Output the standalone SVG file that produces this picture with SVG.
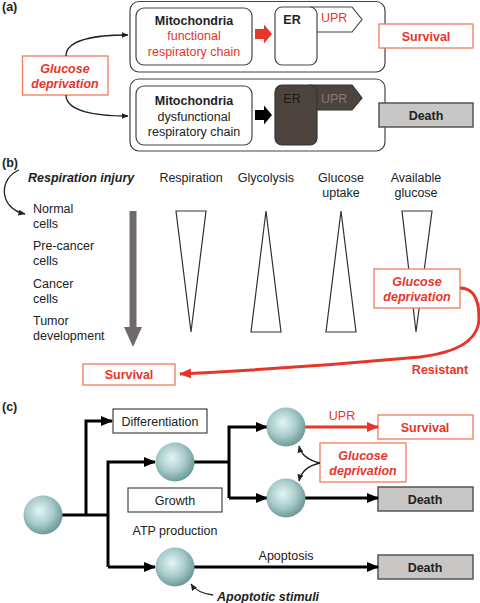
<svg xmlns="http://www.w3.org/2000/svg" width="480" height="603" viewBox="0 0 480 603">
<style>
text{font-family:"Liberation Sans",Arial,sans-serif;font-size:12.5px;fill:#222}
.b{font-weight:bold}
.bi{font-weight:bold;font-style:italic}
.red{fill:#e8352a}
.c{text-anchor:middle}
.box{fill:#fff;stroke:#444;stroke-width:1.2}
.rbox{fill:#fff;stroke:#f07a5a;stroke-width:1.3}
.dbox{fill:#c9c7c5;stroke:#555;stroke-width:1.5}
.thin{fill:none;stroke:#222;stroke-width:1.3}
.thick{fill:none;stroke:#000;stroke-width:3}
.tri{fill:#fff;stroke:#333;stroke-width:1.2}
</style>
<defs>
<marker id="ah" markerUnits="userSpaceOnUse" markerWidth="12" markerHeight="10" refX="11" refY="5" orient="auto"><path d="M0,0 L12,5 L0,10 z" fill="#000"/></marker>
<marker id="ahr" markerUnits="userSpaceOnUse" markerWidth="12" markerHeight="10" refX="11" refY="5" orient="auto"><path d="M0,0 L12,5 L0,10 z" fill="#e8352a"/></marker>
<marker id="as" markerUnits="userSpaceOnUse" markerWidth="7" markerHeight="6" refX="6.5" refY="3" orient="auto"><path d="M0,0 L7,3 L0,6 z" fill="#222"/></marker>
<radialGradient id="cg" cx="0.42" cy="0.4" r="0.62">
<stop offset="0" stop-color="#e4f6f6"/><stop offset="0.55" stop-color="#a9cbcb"/><stop offset="1" stop-color="#6a9797"/>
</radialGradient>
</defs>

<!-- Panel a -->
<text class="b" x="2" y="11">(a)</text>
<g id="a-top">
<rect class="box" x="130" y="1.5" width="255" height="70.5" rx="9"/>
<rect class="box" x="136" y="8" width="116" height="57" rx="8"/>
<text class="b c" x="194" y="25">Mitochondria</text>
<text class="red c" x="194" y="40">functional</text>
<text class="red c" x="194" y="56">respiratory chain</text>
<polygon points="255,29 264,29 264,24.5 272,34 264,43.5 264,39 255,39" fill="#e8352a"/>
<polygon points="310,7 352,7 362,19.5 352,32 310,32" fill="#fff" stroke="#444" stroke-width="1.2"/>
<rect class="box" x="275" y="7" width="42" height="58" rx="7"/>
<text class="b c" x="292" y="24">ER</text>
<text class="red" x="321" y="22">UPR</text>
</g>
<g id="a-bottom">
<rect class="box" x="130" y="79" width="255" height="72" rx="9"/>
<rect class="box" x="136" y="86" width="116" height="59" rx="8"/>
<text class="b c" x="194" y="105">Mitochondria</text>
<text class="c" x="194" y="121">dysfunctional</text>
<text class="c" x="194" y="136">respiratory chain</text>
<polygon points="255,110 264,110 264,105.5 272,115 264,124.5 264,120 255,120" fill="#000"/>
<polygon points="310,85 352,85 362,98 352,110 310,110" fill="#4d4440" stroke="#333" stroke-width="1.2"/>
<rect x="275" y="85" width="42" height="60" rx="7" fill="#4d4440" stroke="#333" stroke-width="1.2"/>
<text class="c" x="292" y="103" style="fill:#1a1a1a">ER</text>
<text x="321" y="103" style="fill:#857a76">UPR</text>
</g>
<g id="a-glucose">
<rect class="rbox" x="22.5" y="56" width="85.5" height="39"/>
<text class="bi red c" x="65" y="73">Glucose</text>
<text class="bi red c" x="65" y="88">deprivation</text>
</g>
<g id="a-survival"><rect class="rbox" x="379" y="24" width="94" height="24"/><text class="b red c" x="426" y="41">Survival</text></g>
<g id="a-death"><rect class="dbox" x="379" y="103" width="94" height="24"/><text class="b c" x="426" y="120">Death</text></g>

<!-- Panel b -->
<text class="b" x="2" y="167">(b)</text>
<text class="bi" x="28" y="182">Respiration injury</text>
<text class="c" x="191" y="182">Respiration</text>
<text class="c" x="266" y="182">Glycolysis</text>
<text class="c" x="341" y="182">Glucose</text>
<text class="c" x="341" y="197">uptake</text>
<text class="c" x="416" y="182">Available</text>
<text class="c" x="416" y="197">glucose</text>
<text x="33" y="213">Normal</text><text x="33" y="228">cells</text>
<text x="33" y="250">Pre-cancer</text><text x="33" y="265">cells</text>
<text x="33" y="288">Cancer</text><text x="33" y="303">cells</text>
<text x="33" y="325">Tumor</text><text x="33" y="340">development</text>
<g id="b-arrow">
<rect x="129.5" y="211" width="7" height="117" fill="#6f6a69"/>
<polygon points="124,327 142,327 133,347" fill="#6f6a69"/>
</g>
<g id="b-triangles">
<polygon class="tri" points="176,211 206,211 191,332"/>
<polygon class="tri" points="266,211 281,332 251,332"/>
<polygon class="tri" points="341,211 356,332 326,332"/>
<polygon class="tri" points="402,211 432,211 416,332"/>
</g>
<g id="b-glucose">
<rect class="rbox" x="374" y="269" width="86" height="39"/>
<text class="bi red c" x="417" y="286">Glucose</text>
<text class="bi red c" x="417" y="301">deprivation</text>
</g>
<g id="b-survival"><rect class="rbox" x="83" y="364" width="92" height="21"/><text class="b red c" x="129" y="379">Survival</text></g>
<text class="b red c" x="440" y="374">Resistant</text>

<!-- Panel c -->
<text class="b" x="2" y="411">(c)</text>
<g id="c-differentiation"><rect class="box" x="113" y="409" width="94" height="24"/><text class="c" x="160" y="426">Differentiation</text></g>
<g id="c-growth"><rect class="box" x="128" y="488" width="94" height="24"/><text class="c" x="175" y="505">Growth</text></g>
<text class="c" x="175" y="535">ATP production</text>
<text class="c" x="286" y="560">Apoptosis</text>
<text class="red c" x="342" y="420">UPR</text>
<g id="c-survival"><rect class="rbox" x="378" y="415" width="95" height="24"/><text class="b red c" x="425" y="432">Survival</text></g>
<g id="c-glucose">
<rect class="rbox" x="320" y="443" width="86" height="39"/>
<text class="bi red c" x="363" y="460">Glucose</text>
<text class="bi red c" x="363" y="475">deprivation</text>
</g>
<g id="c-death1"><rect class="dbox" x="378" y="487" width="95" height="24"/><text class="b c" x="425" y="504">Death</text></g>
<g id="c-death2"><rect class="dbox" x="378" y="555" width="95" height="24"/><text class="b c" x="425" y="572">Death</text></g>
<text class="bi" x="217" y="601">Apoptotic stimuli</text>

<g id="connectors">
<path class="thin" d="M66,56 C66,40 95,35 128,35" marker-end="url(#as)"/>
<path class="thin" d="M66,95 C66,111 95,116 128,116" marker-end="url(#as)"/>
<path class="thin" d="M19,170 C-1,178 -2,208 25,214" marker-end="url(#as)"/>
<path d="M460,288 Q479,288 479,318 Q479,350 420,357 Q300,368 180,374" fill="none" stroke="#e8352a" stroke-width="3" marker-end="url(#ahr)"/>
<path class="thick" d="M62,515 H108"/>
<path class="thick" d="M86,515 V421 H112" marker-end="url(#ah)"/>
<path class="thick" d="M108,567 V462 H155" marker-end="url(#ah)"/>
<path class="thick" d="M108,567 H155" marker-end="url(#ah)"/>
<path class="thick" d="M194,462 H229"/>
<path class="thick" d="M229,498 V427 H267" marker-end="url(#ah)"/>
<path class="thick" d="M229,498 H267" marker-end="url(#ah)"/>
<path d="M305,427 H378" fill="none" stroke="#e8352a" stroke-width="3" marker-end="url(#ahr)"/>
<path class="thick" d="M305,498 H378" marker-end="url(#ah)"/>
<path class="thick" d="M194,567 H378" marker-end="url(#ah)"/>
<path class="thin" d="M320,463 Q302,459 299,446" marker-end="url(#as)"/>
<path class="thin" d="M320,463 Q302,467 299,481" marker-end="url(#as)"/>
<path class="thin" d="M213,595 Q197,593 191,584" marker-end="url(#as)"/>
</g>

<g id="c-cell0"><circle cx="43" cy="515" r="19.5" fill="url(#cg)"/></g>
<g id="c-cell-growth"><circle cx="175" cy="462" r="19.5" fill="url(#cg)"/></g>
<g id="c-cell-top"><circle cx="286" cy="427" r="19.5" fill="url(#cg)"/></g>
<g id="c-cell-mid"><circle cx="286" cy="498" r="19.5" fill="url(#cg)"/></g>
<g id="c-cell-bottom"><circle cx="175" cy="567" r="19.5" fill="url(#cg)"/></g>
</svg>
